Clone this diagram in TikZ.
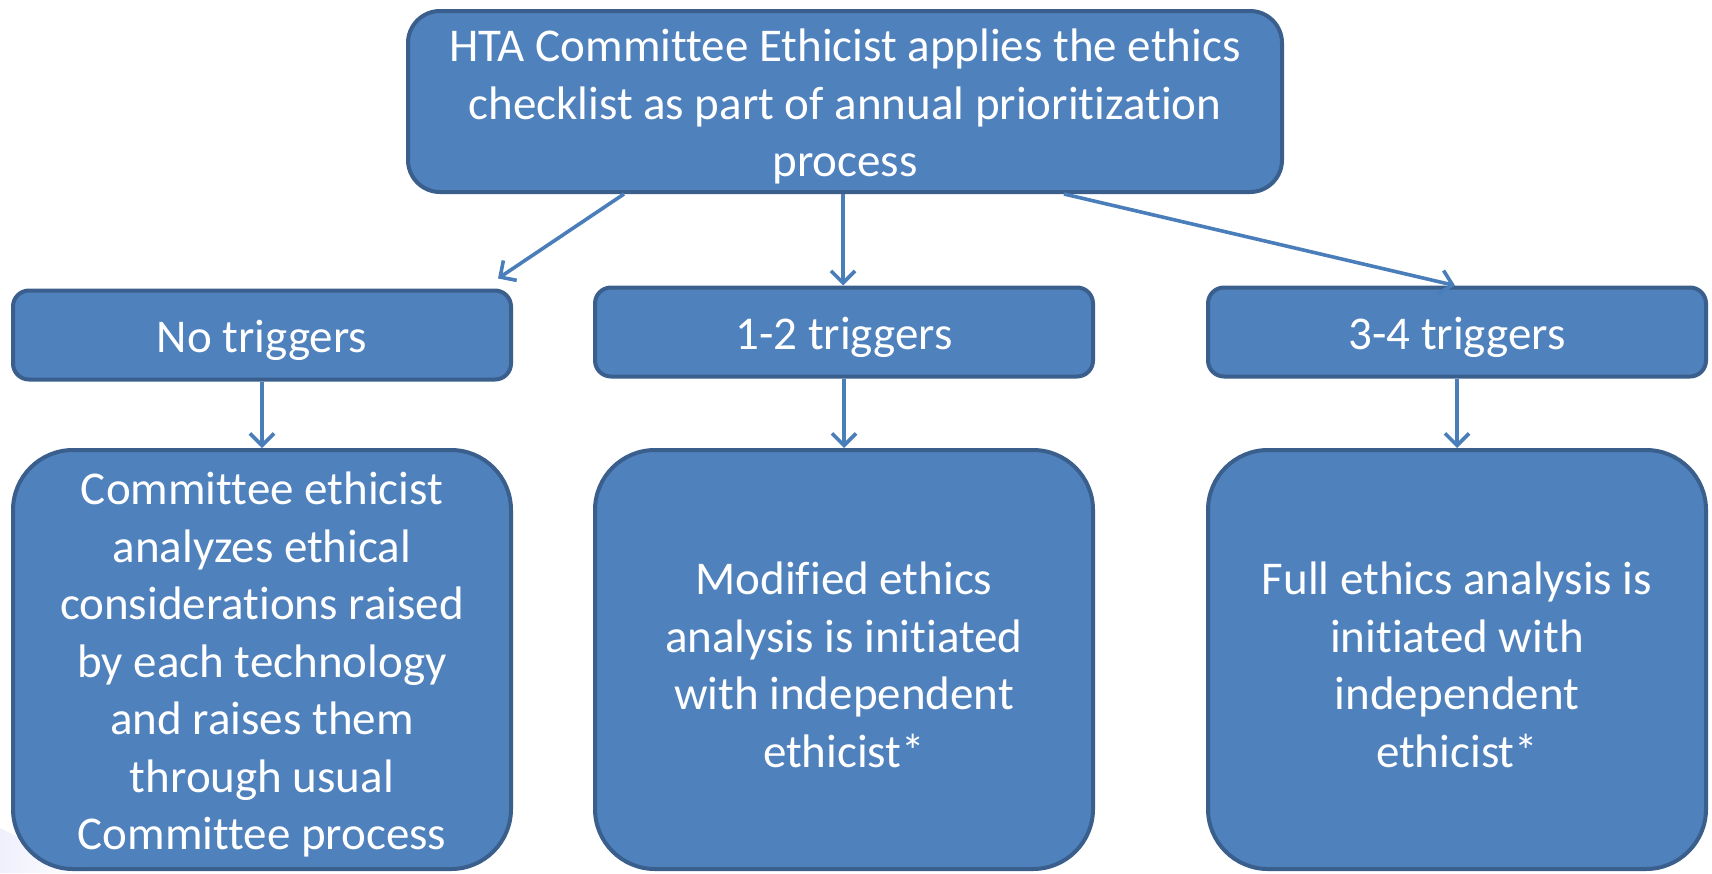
\documentclass[tikz,border=0pt]{standalone}
\usepackage{fontspec}
\setmainfont{Carlito}[Ligatures={NoCommon}]
\usetikzlibrary{arrows.meta}
\definecolor{boxfill}{HTML}{4F81BD}
\definecolor{boxline}{HTML}{3A5F8C}
\definecolor{arrowc}{HTML}{4A7EBB}
\newcommand\firststrut{\rule{0pt}{21.5pt}}
\begin{document}
\begin{tikzpicture}[x=0.5pt,y=-0.5pt,
  base/.style={draw=boxline, line width=2pt, fill=boxfill, text=white, inner sep=0pt,
    align=flush center, font=\fontsize{23.5}{28.75}\selectfont},
  topbox/.style={base, rounded corners=16pt, minimum width=437pt, minimum height=90.5pt, text width=430pt},
  midbox/.style={base, rounded corners=8pt, minimum width=249pt, minimum height=44.5pt, text width=240pt},
  lowbox/.style={base, rounded corners=30pt, minimum width=249pt, minimum height=209.5pt, text width=240pt},
  conn/.style={draw=arrowc, line width=1.8pt, -{Straight Barb[length=6pt,width=12pt,line width=1.8pt]}}]
\useasboundingbox (0,0) rectangle (1712,873);
\fill[white] (0,0) rectangle (1712,873);
\shade[left color=black!12!blue!6, right color=white] (0,828) -- (90,873) -- (0,873) -- cycle;

\node[topbox] (top) at (845,101.5) {\firststrut HTA Committee Ethicist applies the ethics\\checklist as part of annual prioritization\\process};

\node[midbox] (no) at (262,335) {\firststrut No triggers};
\node[midbox] (twelve) at (844,332) {\firststrut 1-2 triggers};
\node[midbox] (threefour) at (1457,332) {\firststrut 3-4 triggers};

\node[lowbox] (bl) at (262,659.5) {\firststrut Committee ethicist\\analyzes ethical\\considerations raised\\by each technology\\and raises them\\through usual\\Committee process};
\node[lowbox] (bm) at (844,659.5) {\firststrut Modified ethics\\analysis is initiated\\with independent\\ethicist*};
\node[lowbox] (br) at (1457,659.5) {\firststrut Full ethics analysis is\\initiated with\\independent\\ethicist*};

\draw[conn] ([xshift=-110.5pt]top.south) -- ([xshift=118pt,yshift=5pt]no.north);
\draw[conn] ([xshift=-1pt]top.south) -- ([xshift=-0.5pt]twelve.north);
\draw[conn] ([xshift=109.5pt]top.south) -- ([xshift=-1pt]threefour.north);

\draw[conn] (no.south) -- (bl.north);
\draw[conn] (twelve.south) -- (bm.north);
\draw[conn] (threefour.south) -- (br.north);
\end{tikzpicture}
\end{document}
